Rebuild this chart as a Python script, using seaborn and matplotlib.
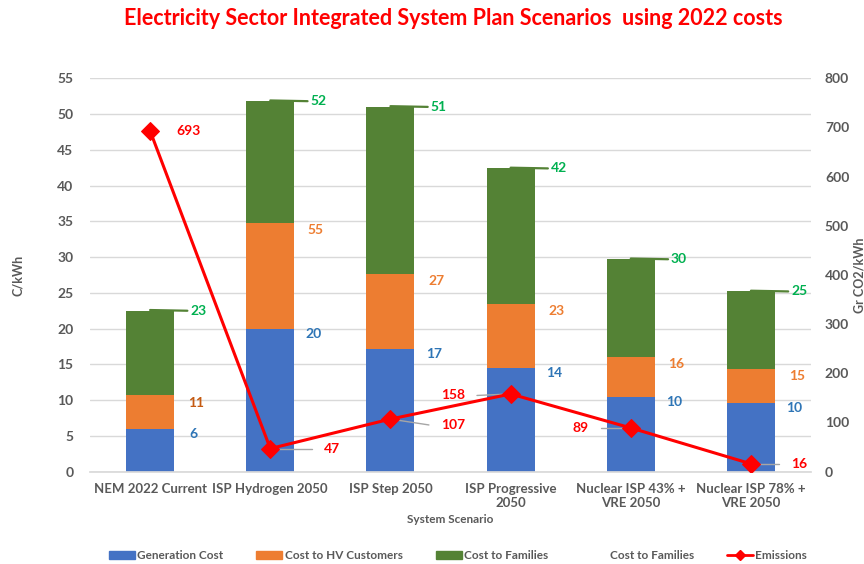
import numpy as np
import pandas as pd
import seaborn as sns
import matplotlib
matplotlib.use("Agg")
import matplotlib.pyplot as plt
from matplotlib.patches import Patch
from matplotlib.lines import Line2D

# ---------------- data ----------------
scenarios = ["NEM 2022 Current", "ISP Hydrogen 2050", "ISP Step 2050",
             "ISP Progressive\n2050", "Nuclear ISP 43% +\nVRE 2050",
             "Nuclear ISP 78% +\nVRE 2050"]
generation_cost = [5.95, 20.0, 17.2, 14.5, 10.4, 9.6]          # top of blue
hv_cumulative = [10.66, 34.8, 27.6, 23.4, 16.1, 14.4]          # top of orange
total_cost = [22.5, 51.8, 51.0, 42.4, 29.7, 25.2]              # top of green
gen_labels = ["6", "20", "17", "14", "10", "10"]
hv_labels = ["11", "55", "27", "23", "16", "15"]
total_labels = ["23", "52", "51", "42", "30", "25"]
emissions = [693, 47, 107, 158, 89, 16]

# ---------------- style ----------------
sns.set_theme(style="white")
plt.rcParams["font.family"] = ["Lato", "DejaVu Sans"]
plt.rcParams["font.weight"] = "bold"

BLUE, ORANGE, GREEN, RED = "#4472C4", "#ED7D31", "#548235", "#FF0000"
GRAY = "#595959"

fig = plt.figure(figsize=(8.64, 5.64), dpi=100)
ax = fig.add_axes([0.1042, 0.1637, 0.8345, 0.6975])

df = pd.DataFrame({"scenario": scenarios, "gen": generation_cost,
                   "hv": hv_cumulative, "total": total_cost})

sns.barplot(data=df, x="scenario", y="total", color=GREEN, width=0.4,
            saturation=1, ax=ax, linewidth=0, zorder=2)
sns.barplot(data=df, x="scenario", y="hv", color=ORANGE, width=0.4,
            saturation=1, ax=ax, linewidth=0, zorder=2)
sns.barplot(data=df, x="scenario", y="gen", color=BLUE, width=0.4,
            saturation=1, ax=ax, linewidth=0, zorder=2)

ax.set_ylim(0, 55)
ax.set_yticks(np.arange(0, 56, 5))
ax.set_xlim(-0.5, len(scenarios) - 0.5)
ax.yaxis.grid(True, color="#D9D9D9", linewidth=1, zorder=0)
ax.set_axisbelow(True)
for s in ["top", "right", "left"]:
    ax.spines[s].set_visible(False)
ax.spines["bottom"].set_color("#D9D9D9")
ax.tick_params(axis="both", length=0, labelsize=9.5, labelcolor=GRAY)
ax.tick_params(axis="x", pad=8)
ax.tick_params(axis="y", pad=12, labelsize=10)
for t in ax.get_xticklabels() + ax.get_yticklabels():
    t.set_fontweight("bold")
ax.set_xlabel("System Scenario", fontsize=8.5, color=GRAY, fontweight="bold", labelpad=4)
ax.set_ylabel("C/kWh", fontsize=9, color=GRAY, fontweight="bold", labelpad=24)

x = np.arange(len(scenarios))
for i in x:
    ax.text(i + 0.36, generation_cost[i] - 0.7, gen_labels[i], color="#2E75B6",
            fontsize=10, fontweight="bold", ha="center", va="center", zorder=5)
    ax.text(i + 0.38, hv_cumulative[i] - 1.0, hv_labels[i],
            color="#C55A11" if i == 0 else ORANGE,
            fontsize=10, fontweight="bold", ha="center", va="center", zorder=5)
    ax.plot([i, i + 0.31], [total_cost[i] + 0.1, total_cost[i]], color=GREEN,
            lw=1.6, zorder=4)
    ax.text(i + 0.40, total_cost[i], total_labels[i], color="#00B050",
            fontsize=10, fontweight="bold", ha="center", va="center", zorder=5)

# ---------------- emissions on secondary axis ----------------
ax2 = ax.twinx()
sns.lineplot(x=x, y=emissions, ax=ax2, color=RED, lw=2.2, marker="D",
             markersize=9, markeredgecolor=RED, zorder=6)
ax2.set_ylim(0, 800)
ax2.set_yticks(np.arange(0, 801, 100))
for s in ["top", "right", "left", "bottom"]:
    ax2.spines[s].set_visible(False)
ax2.tick_params(axis="y", length=0, labelsize=10, labelcolor=GRAY, pad=10)
for t in ax2.get_yticklabels():
    t.set_fontweight("bold")
ax2.set_ylabel("Gr CO2/kWh", fontsize=9, color=GRAY, fontweight="bold", labelpad=3)

# emission label offsets (in category units / data units)
em_dx = [0.22, 0.45, 0.42, -0.38, -0.35, 0.33]
em_dy = [0, 0, -12, -3, 0, 0]
for i in x:
    lx = i + em_dx[i]
    ly = emissions[i] + em_dy[i]
    if i != 0:
        ex = lx - 0.1 if em_dx[i] > 0 else lx + 0.1
        ax2.plot([i, ex], [emissions[i], ly], color="#A6A6A6", lw=1, zorder=5)
    ax2.text(lx, ly, str(emissions[i]), color=RED, fontsize=10, fontweight="bold",
             ha="left" if em_dx[i] > 0 else "right", va="center", zorder=7)

fig.suptitle("Electricity Sector Integrated System Plan Scenarios  using 2022 costs",
             x=0.525, y=0.985, fontsize=15.5, color=RED, fontweight="bold")

handles = [Patch(color=BLUE), Patch(color=ORANGE), Patch(color=GREEN),
           Line2D([], [], linestyle="none"),
           Line2D([], [], color=RED, lw=2, marker="D", markersize=5)]
labels = ["Generation Cost", "Cost to HV Customers", "Cost to Families",
          "Cost to Families", "Emissions"]
leg = fig.legend(handles, labels, loc="center", bbox_to_anchor=(0.53, 0.015),
                 ncol=5, frameon=False, fontsize=8.5, handlelength=2.2,
                 handleheight=0.6, columnspacing=2.8, handletextpad=0.2)
for t in leg.get_texts():
    t.set_color(GRAY)
    t.set_fontweight("bold")

fig.savefig("out.png", dpi=100)
